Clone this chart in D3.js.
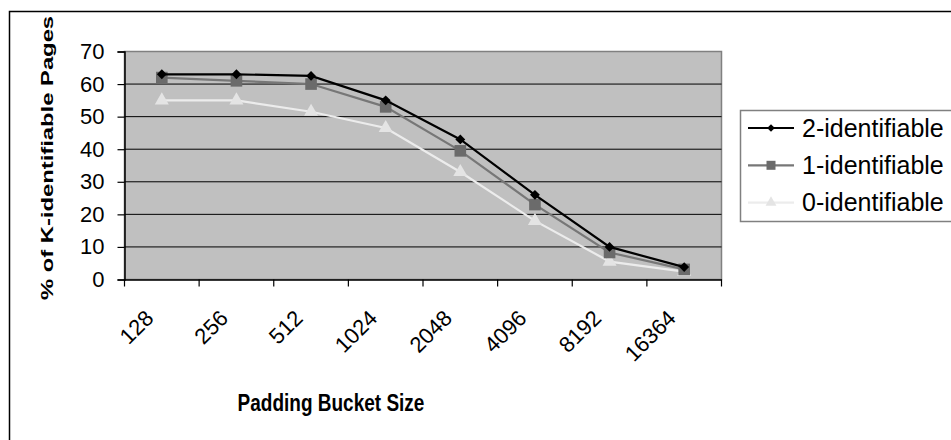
<!DOCTYPE html>
<html>
<head>
<meta charset="utf-8">
<script src="https://cdn.jsdelivr.net/npm/d3@7"></script>
<style>
  body { margin: 0; background: #fff; }
  svg { display: block; font-family: "Liberation Sans", Arial, sans-serif; }
</style>
</head>
<body>
<svg id="chart" width="951" height="440"></svg>
<script>
// ---- data ----
var buckets = ["128", "256", "512", "1024", "2048", "4096", "8192", "16364"];
var twoIdent = [63, 63, 62.5, 55, 43, 26, 10, 3.8];
var oneIdent = [62, 61, 60, 53, 39.5, 23, 8.3, 3.1];
var zeroIdent = [55, 55, 51.5, 46.5, 33, 18, 5.5, 2.4];
var seriesNames = ["2-identifiable", "1-identifiable", "0-identifiable"];
var yTicks = [0, 10, 20, 30, 40, 50, 60, 70];

var svg = d3.select("#chart");

// outer chart border (right/bottom edges fall outside the picture)
svg.append("rect")
    .attr("x", 9.5).attr("y", 11.5)
    .attr("width", 1200).attr("height", 1200)
    .attr("fill", "none")
    .attr("stroke", "#000")
    .attr("stroke-width", 1.5);

const plotL = 124.5, plotR = 721.5, plotT = 51.5, plotB = 279.5;

var x = d3.scaleBand()
    .domain(buckets)
    .range([plotL, plotR]);

var y = d3.scaleLinear()
    .domain([0, 70])
    .range([plotB, plotT]);

// plot area
svg.append("rect")
    .attr("x", plotL).attr("y", plotT)
    .attr("width", plotR-plotL).attr("height", plotB-plotT)
    .attr("fill", "#c0c0c0")
    .attr("stroke", "#808080")
    .attr("stroke-width", 1.5);

// gridlines
svg.append("g").selectAll("line")
    .data(yTicks.slice(1, -1))
  .enter().append("line")
    .attr("x1", plotL).attr("x2", plotR)
    .attr("y1", function(d){ return y(d); })
    .attr("y2", function(d){ return y(d); })
    .attr("stroke", "#000")
    .attr("stroke-width", 1);

// y axis
var yAxis = svg.append("g")
    .attr("transform", "translate(" + plotL + ",0)")
    .call(d3.axisLeft(y).tickValues(yTicks).tickSize(7).tickPadding(13));
yAxis.selectAll("text")
    .attr("font-size", 22)
    .attr("fill", "#000")
    .attr("font-family", "Liberation Sans, Arial, sans-serif");
yAxis.selectAll("line").attr("stroke", "#000").attr("stroke-width", 1.2);
yAxis.select(".domain").attr("stroke", "#000").attr("stroke-width", 1.5);

// x axis: tick marks between categories, rotated labels
var xAxis = svg.append("g")
    .attr("transform", "translate(0," + plotB + ")")
    .call(d3.axisBottom(x).tickSize(0).tickPadding(0));
xAxis.select(".domain").attr("stroke", "#000").attr("stroke-width", 1.5);
xAxis.selectAll("text")
    .attr("font-size", 22)
    .attr("fill", "#000")
    .attr("font-family", "Liberation Sans, Arial, sans-serif")
    .attr("text-anchor", "end")
    .attr("dy", 0)
    .attr("y", 0)
    .attr("transform", "translate(-7,40) rotate(-45)");

var edges = buckets.map(function(d){ return x(d); }).concat([plotR]);
xAxis.selectAll(".edge")
    .data(edges)
  .enter().append("line")
    .attr("class", "edge")
    .attr("x1", function(d){ return d; })
    .attr("x2", function(d){ return d; })
    .attr("y1", 0).attr("y2", 7)
    .attr("stroke", "#000")
    .attr("stroke-width", 1.2);

// axis titles
svg.append("text")
    .attr("transform", "translate(331,411) scale(1,1.25)")
    .attr("text-anchor", "middle")
    .attr("font-size", 19)
    .attr("font-weight", "bold")
    .text("Padding Bucket Size");

svg.append("text")
    .attr("transform", "translate(53,158) scale(1,1.4) rotate(-90)")
    .attr("text-anchor", "middle")
    .attr("font-size", 17)
    .attr("font-weight", "bold")
    .text("% of K-identifiable Pages");

// series
var series = [
  { name: seriesNames[0], values: twoIdent, line: "#000000", fill: "#000000", shape: "diamond", size: 62 },
  { name: seriesNames[1], values: oneIdent, line: "#777777", fill: "#6b6b6b", shape: "square", size: 135 },
  { name: seriesNames[2], values: zeroIdent, line: "#ececec", fill: "#e4e4e4", shape: "triangle", size: 85 }
];

function symbolFor(shape) {
  if (shape == "diamond") return d3.symbolDiamond2;
  if (shape == "square") return d3.symbolSquare;
  return d3.symbolTriangle;
}

var line = d3.line()
    .x(function(d, i){ return x(buckets[i]) + x.bandwidth()/2; })
    .y(function(d){ return y(d); });

// draw light series first so the dark one stays on top
series.slice().reverse().forEach(function(s) {
  var g = svg.append("g");
  g.append("path")
    .attr("d", line(s.values))
    .attr("fill", "none")
    .attr("stroke", s.line)
    .attr("stroke-width", 2.2);
  g.selectAll("path.mark")
    .data(s.values)
  .enter().append("path")
    .attr("class", "mark")
    .attr("d", d3.symbol().type(symbolFor(s.shape)).size(s.size))
    .attr("transform", function(d, i){
      return "translate(" + (x(buckets[i]) + x.bandwidth()/2) + "," + y(d) + ")";
    })
    .attr("fill", s.fill);
});

// legend
svg.append("rect")
    .attr("x", 740.5).attr("y", 110.5)
    .attr("width", 400).attr("height", 111)
    .attr("fill", "#fff")
    .attr("stroke", "#808080")
    .attr("stroke-width", 1.5);

var legend = svg.append("g").selectAll("g")
    .data(series)
  .enter().append("g")
    .attr("transform", function(d, i){ return "translate(0," + (128 + i*37.3) + ")"; });

legend.append("line")
    .attr("x1", 748).attr("x2", 794)
    .attr("y1", 0).attr("y2", 0)
    .attr("stroke", function(d){ return d.line; })
    .attr("stroke-width", 2.2);
legend.append("path")
    .attr("d", function(d){ return d3.symbol().type(symbolFor(d.shape)).size(d.size*0.6)(); })
    .attr("transform", "translate(771,0)")
    .attr("fill", function(d){ return d.fill; });
legend.append("text")
    .attr("x", 802)
    .attr("y", 0)
    .attr("dy", "0.35em")
    .attr("font-size", 25)
    .text(function(d){ return d.name; });
</script>
</body>
</html>
